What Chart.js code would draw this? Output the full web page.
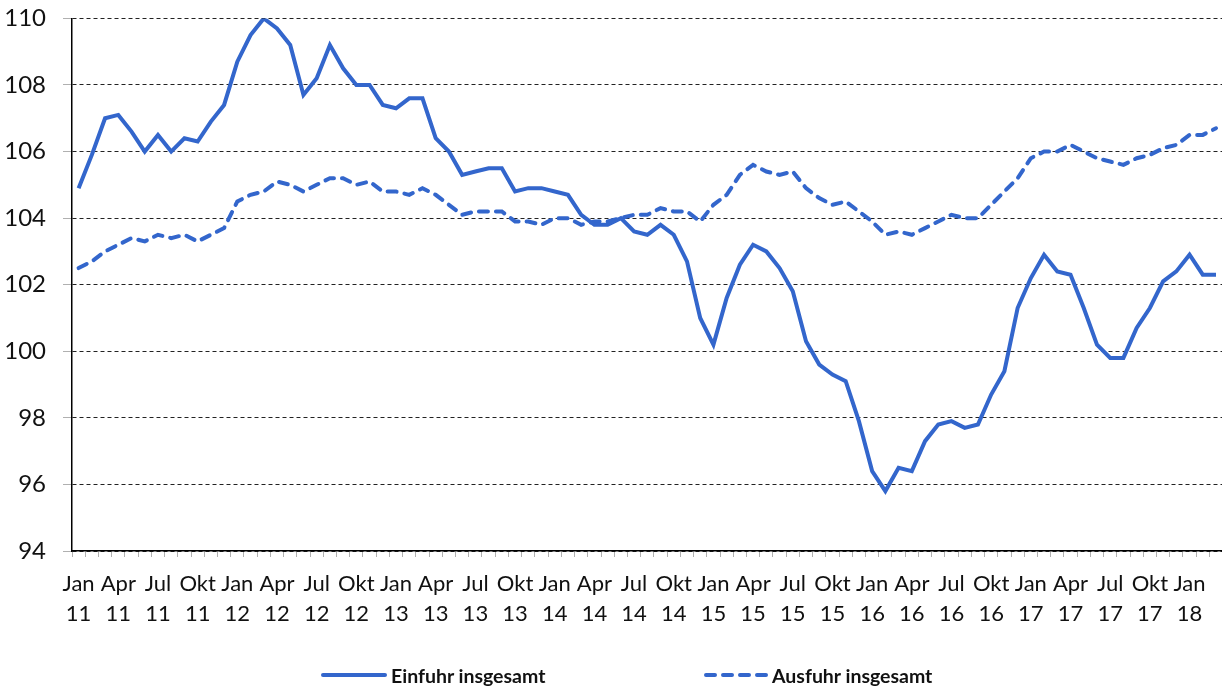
<!DOCTYPE html>
<html>
<head>
<meta charset="utf-8">
<script src="https://cdn.jsdelivr.net/npm/chart.js@4/dist/chart.umd.min.js"></script>
<style>
  html, body { margin: 0; padding: 0; background: #fff; }
  #wrap { position: relative; width: 1222px; height: 688px; overflow: hidden; }
  #chart { position: absolute; left: 0; top: -13px; }
  .leg { position: absolute; top: 663px; height: 24px; display: flex; align-items: center;
         font-family: Lato, "Open Sans", sans-serif; font-weight: bold; font-size: 19.5px; color: #111; }
  .leg svg { margin-right: 3px; }
</style>
</head>
<body>
<div id="wrap">
  <canvas id="chart" width="1228" height="701"></canvas>
  <div class="leg" style="left:320px">
    <svg width="68" height="10"><line x1="3" y1="5" x2="65" y2="5" stroke="#3366cc" stroke-width="4" stroke-linecap="round"/></svg>
    <span>Einfuhr insgesamt</span>
  </div>
  <div class="leg" style="left:703px">
    <svg width="66" height="10"><line x1="3" y1="5" x2="63" y2="5" stroke="#3366cc" stroke-width="4" stroke-linecap="round" stroke-dasharray="9 8"/></svg>
    <span>Ausfuhr insgesamt</span>
  </div>
</div>
<script>
  // monthly, Jan 2011 .. Mar 2018
  const monthNames = ['Jan', 'Feb', 'Mär', 'Apr', 'Mai', 'Jun', 'Jul', 'Aug', 'Sep', 'Okt', 'Nov', 'Dez'];
  const years = ['11', '12', '13', '14', '15', '16', '17', '18'];
  const lastMonthCount = 3; // 2018 runs to März

  const einfuhr = [
    104.9, 105.9, 107.0, 107.1, 106.6, 106.0, 106.5, 106.0, 106.4, 106.3, 106.9, 107.4,
    108.7, 109.5, 110.0, 109.7, 109.2, 107.7, 108.2, 109.2, 108.5, 108.0, 108.0, 107.4,
    107.3, 107.6, 107.6, 106.4, 106.0, 105.3, 105.4, 105.5, 105.5, 104.8, 104.9, 104.9,
    104.8, 104.7, 104.1, 103.8, 103.8, 104.0, 103.6, 103.5, 103.8, 103.5, 102.7, 101.0,
    100.2, 101.6, 102.6, 103.2, 103.0, 102.5, 101.8, 100.3, 99.6, 99.3, 99.1, 97.9,
    96.4, 95.8, 96.5, 96.4, 97.3, 97.8, 97.9, 97.7, 97.8, 98.7, 99.4, 101.3,
    102.2, 102.9, 102.4, 102.3, 101.3, 100.2, 99.8, 99.8, 100.7, 101.3, 102.1, 102.4,
    102.9, 102.3, 102.3
  ];

  const ausfuhr = [
    102.5, 102.7, 103.0, 103.2, 103.4, 103.3, 103.5, 103.4, 103.5, 103.3, 103.5, 103.7,
    104.5, 104.7, 104.8, 105.1, 105.0, 104.8, 105.0, 105.2, 105.2, 105.0, 105.1, 104.8,
    104.8, 104.7, 104.9, 104.7, 104.4, 104.1, 104.2, 104.2, 104.2, 103.9, 103.9, 103.8,
    104.0, 104.0, 103.8, 103.9, 103.9, 104.0, 104.1, 104.1, 104.3, 104.2, 104.2, 103.9,
    104.4, 104.7, 105.3, 105.6, 105.4, 105.3, 105.4, 104.9, 104.6, 104.4, 104.5, 104.2,
    103.9, 103.5, 103.6, 103.5, 103.7, 103.9, 104.1, 104.0, 104.0, 104.4, 104.8, 105.2,
    105.8, 106.0, 106.0, 106.2, 106.0, 105.8, 105.7, 105.6, 105.8, 105.9, 106.1, 106.2,
    106.5, 106.5, 106.7
  ];

  const labels = [];
  years.forEach((y, yi) => {
    const n = yi === years.length - 1 ? lastMonthCount : 12;
    for (let m = 0; m < n; m++) labels.push([monthNames[m], y]);
  });

  const blue = '#3366cc';
  const fontFamily = 'Lato, "Open Sans", sans-serif';

  new Chart(document.getElementById('chart'), {
    type: 'line',
    data: {
      labels: labels,
      datasets: [
        {
          label: 'Einfuhr insgesamt',
          data: einfuhr,
          borderColor: blue,
          borderWidth: 4,
          pointRadius: 0,
          tension: 0,
          fill: false
        },
        {
          label: 'Ausfuhr insgesamt',
          data: ausfuhr,
          borderColor: blue,
          borderWidth: 4,
          borderDash: [9, 8],
          borderCapStyle: 'round',
          pointRadius: 0,
          tension: 0,
          fill: false
        }
      ]
    },
    options: {
      responsive: false,
      animation: false,
      layout: { padding: { top: 5, right: 0, bottom: 57, left: 0 } },
      plugins: {
        legend: { display: false },
        tooltip: { enabled: false }
      },
      scales: {
        x: {
          type: 'category',
          offset: true,
          afterFit: (scale) => { scale.height = 80; },
          grid: {
            offset: true,
            drawOnChartArea: false,
            drawTicks: true,
            tickLength: 6,
            tickColor: '#b0b0b0',
            tickWidth: 1
          },
          border: { display: true, color: '#000', width: 1.5 },
          ticks: {
            autoSkip: false,
            maxRotation: 0,
            minRotation: 0,
            padding: 12,
            color: '#111',
            font: { family: fontFamily, size: 22, lineHeight: 1.36 },
            callback: function (value, index) {
              return index % 3 === 0 ? labels[index] : '';
            }
          }
        },
        y: {
          min: 94,
          max: 110,
          afterFit: (scale) => { scale.width = 72; },
          grid: {
            color: '#222',
            lineWidth: 1,
            drawTicks: true,
            tickLength: 9,
            tickColor: '#b0b0b0',
            tickBorderDash: []
          },
          border: { display: true, color: '#000', width: 1.5, dash: [4, 3] },
          ticks: {
            stepSize: 2,
            padding: 17,
            color: '#111',
            font: { family: fontFamily, size: 24 }
          }
        }
      }
    }
  });
</script>
</body>
</html>
